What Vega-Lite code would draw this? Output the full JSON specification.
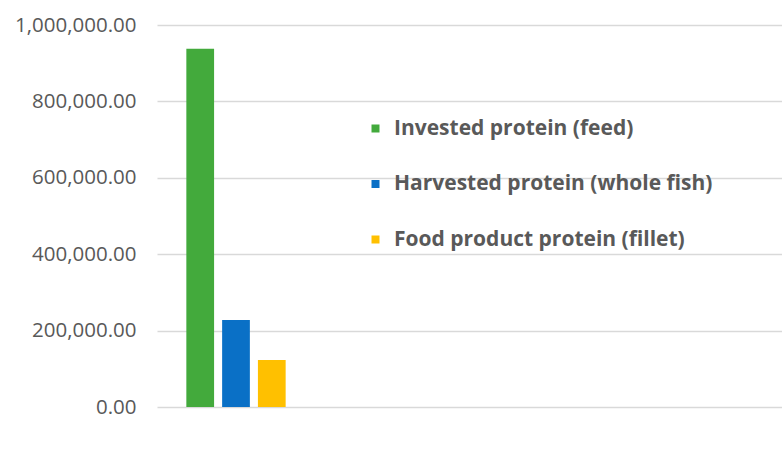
{
  "$schema": "https://vega.github.io/schema/vega-lite/v6.json",
  "autosize": {"type": "none"},
  "width": 632,
  "height": 382,
  "padding": {"left": 157, "top": 25, "right": 0, "bottom": 43},
  "background": "white",
  "config": {"view": {"stroke": null}},
  "data": {
    "values": [
      {"cat": "A", "series": "Invested protein (feed)", "value": 938000},
      {"cat": "A", "series": "Harvested protein (whole fish)", "value": 228000},
      {"cat": "A", "series": "Food product protein (fillet)", "value": 123000}
    ]
  },
  "mark": {"type": "bar"},
  "encoding": {
    "x": {
      "field": "cat",
      "type": "nominal",
      "scale": {"domain": ["A", "B", "C", "D"], "paddingInner": 0, "paddingOuter": 0},
      "axis": null
    },
    "xOffset": {
      "field": "series",
      "type": "nominal",
      "sort": ["Invested protein (feed)", "Harvested protein (whole fish)", "Food product protein (fillet)"],
      "scale": {"paddingInner": 0.225, "paddingOuter": 0.82}
    },
    "y": {
      "field": "value",
      "type": "quantitative",
      "scale": {"domain": [0, 1000000], "nice": false},
      "axis": {
        "title": null,
        "values": [0, 200000, 400000, 600000, 800000, 1000000],
        "format": ",.2f",
        "labelFont": "Open Sans",
        "labelFontSize": 20.5,
        "labelColor": "#595959",
        "labelPadding": 21,
        "ticks": false,
        "domain": false,
        "gridColor": "#d9d9d9",
        "gridWidth": 1.5
      }
    },
    "color": {
      "field": "series",
      "type": "nominal",
      "scale": {
        "domain": ["Invested protein (feed)", "Harvested protein (whole fish)", "Food product protein (fillet)"],
        "range": ["#43aa3c", "#0a70c6", "#ffc000"]
      },
      "legend": {
        "title": null,
        "orient": "none",
        "legendX": 208,
        "legendY": 93,
        "symbolType": "square",
        "symbolSize": 64,
        "symbolStrokeWidth": 0,
        "labelFont": "Open Sans",
        "labelFontWeight": "bold",
        "labelFontSize": 21,
        "labelColor": "#595959",
        "labelLimit": 0,
        "rowPadding": 33.5,
        "labelOffset": 8
      }
    }
  }
}
